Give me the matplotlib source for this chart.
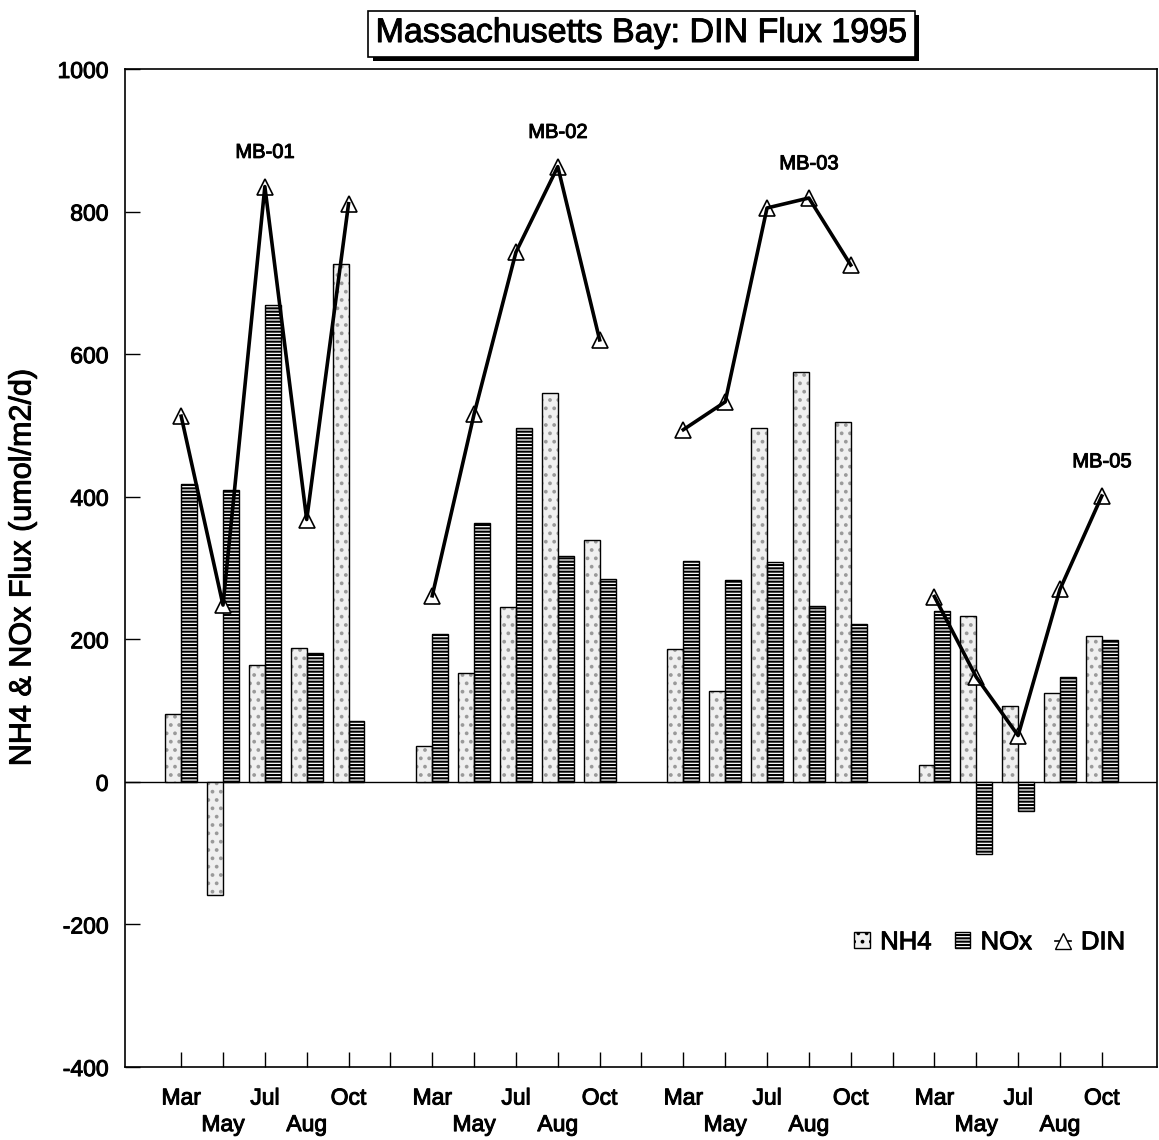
import numpy as np
import matplotlib

matplotlib.use("Agg")
import matplotlib.pyplot as plt
from matplotlib import patheffects
from matplotlib.lines import Line2D
from matplotlib.patches import Patch

months = ["Mar", "May", "Jul", "Aug", "Oct"]
stations = ["MB-01", "MB-02", "MB-03", "MB-05"]

# fluxes in umol/m2/d, one row per station, one column per month
nh4 = [
    [95, -159, 164, 188, 726],
    [51, 153, 245, 546, 339],
    [186, 127, 497, 575, 505],
    [23, 232, 106, 125, 204],
]
nox = [
    [418, 410, 669, 181, 85],
    [207, 363, 496, 317, 284],
    [310, 283, 309, 247, 222],
    [239, -101, -41, 147, 199],
]
din = [
    [513, 248, 835, 368, 811],
    [261, 516, 743, 863, 620],
    [494, 533, 805, 819, 725],
    [260, 147, 65, 270, 401],
]

plt.rcParams["font.family"] = ["Liberation Sans", "DejaVu Sans"]
plt.rcParams["axes.unicode_minus"] = False
plt.rcParams["hatch.linewidth"] = 1.5

NH4_FACE = "#f0f0f0"
NH4_DOTS = "#9a9a9a"

# slightly heavier text strokes
BOLDISH = [patheffects.withStroke(linewidth=0.7, foreground="black")]

fig = plt.figure(figsize=(11.59, 11.40), dpi=100)
ax = fig.add_axes([0.108, 0.064, 0.8903, 0.8755])

slot = len(months) + 1  # one empty slot between stations
bar_w = 0.38

for s, name in enumerate(stations):
    x = s * slot + np.arange(len(months))
    # stippled NH4 bars, hatch layer then outline
    ax.bar(x - bar_w / 2, nh4[s], bar_w, facecolor=NH4_FACE, edgecolor=NH4_DOTS,
           hatch="..", linewidth=0, zorder=2)
    ax.bar(x - bar_w / 2, nh4[s], bar_w, fill=False, edgecolor="black",
           linewidth=1.0, zorder=2.1)
    # striped NOx bars
    ax.bar(x + bar_w / 2, nox[s], bar_w, facecolor="white", edgecolor="black",
           hatch="-----", linewidth=0, zorder=2)
    ax.bar(x + bar_w / 2, nox[s], bar_w, fill=False, edgecolor="black",
           linewidth=1.0, zorder=2.1)
    # DIN line with open triangles
    ax.plot(x, din[s], ls="none", marker="^", ms=11, mfc="white", mec="black",
            mew=1.2, zorder=3)
    ax.plot(x, din[s], color="black", lw=2.6, zorder=4)
    peak = int(np.argmax(din[s]))
    ax.text(x[peak], din[s][peak] + 48, name, ha="center", va="center",
            fontsize=14.5, path_effects=BOLDISH)

ax.axhline(0, color="black", lw=1.0, zorder=1.5)

ticks = np.arange(len(stations) * slot - 1)
tick_labels = []
for i in ticks:
    m = i % slot
    if m >= len(months):
        tick_labels.append("")
    elif m % 2:
        tick_labels.append("\n" + months[m])
    else:
        tick_labels.append(months[m])
ax.set_xticks(ticks, tick_labels)
ax.set_xlim(-1.338, 23.32)
ax.set_ylim(-400, 1000)
ax.set_yticks(range(-400, 1001, 200))
ax.tick_params(direction="in", length=11, width=1, labelsize=16.5)
ax.tick_params(axis="x", pad=14)
ax.tick_params(axis="y", pad=12)
for lbl in ax.get_xticklabels() + ax.get_yticklabels():
    lbl.set_path_effects(BOLDISH)
for sp in ax.spines.values():
    sp.set_linewidth(1.2)

ax.set_ylabel("NH4 & NOx Flux (umol/m2/d)", fontsize=22, path_effects=BOLDISH)
ax.yaxis.set_label_coords(-0.085, 0.5)

handles = [
    Patch(facecolor=NH4_FACE, edgecolor="black", hatch="..", label="NH4"),
    Patch(facecolor="white", edgecolor="black", hatch="-----", label="NOx"),
    Line2D([], [], color="black", lw=1.2, marker="^", ms=11, mfc="white",
           mec="black", label="DIN"),
]
leg = ax.legend(handles=handles, loc="center", bbox_to_anchor=(0.838, 0.125),
                ncol=3, frameon=False, fontsize=18.5, handlelength=0.6,
                handleheight=0.6, handletextpad=0.4, columnspacing=0.9)
for txt in leg.get_texts():
    txt.set_path_effects(BOLDISH)

title = fig.text(0.5535, 0.9706, "Massachusetts Bay: DIN Flux 1995", ha="center",
                 va="center", fontsize=24.5, path_effects=BOLDISH,
                 bbox=dict(boxstyle="square,pad=0.22", facecolor="white",
                           edgecolor="black", linewidth=1.2))
title.get_bbox_patch().set_path_effects([
    patheffects.SimplePatchShadow(offset=(3.2, -3.2), shadow_rgbFace="black", alpha=1.0),
    patheffects.Normal(),
])

fig.savefig("out.png", dpi=100)
